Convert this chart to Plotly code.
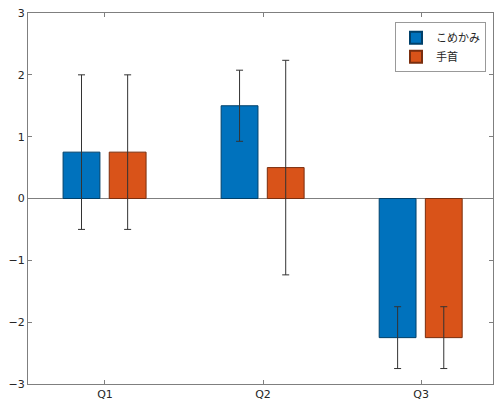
import plotly.graph_objects as go

categories = ["Q1", "Q2", "Q3"]
series_names = ["こめかみ", "手首"]
temple_vals = [0.75, 1.5, -2.25]
temple_err = [1.25, 0.575, 0.5]
wrist_vals = [0.75, 0.5, -2.25]
wrist_err = [1.25, 1.735, 0.5]
y_ticks = [-3, -2, -1, 0, 1, 2, 3]

colors = ["#0072BD", "#D95319"]
edges = ["#00406A", "#7A2E0E"]
xpos = [i + 1 for i in range(len(categories))]

fig = go.Figure()
for name, vals, errs, col, ec, off in [
    (series_names[0], temple_vals, temple_err, colors[0], edges[0], -0.265),
    (series_names[1], wrist_vals, wrist_err, colors[1], edges[1], 0.027),
]:
    fig.add_trace(go.Bar(
        x=xpos, y=vals, name=name,
        offset=off, width=0.233,
        marker=dict(color=col, line=dict(color=ec, width=1)),
        error_y=dict(type="data", array=errs, visible=True,
                     color="#333333", thickness=1, width=3.5),
    ))

axis_common = dict(
    showline=True, linecolor="#7f7f7f", linewidth=1, mirror="ticks",
    ticks="inside", ticklen=4, tickcolor="#7f7f7f", showgrid=False,
    tickfont=dict(family="DejaVu Sans, Noto Sans CJK JP", size=11, color="#262626"),
)

fig.update_layout(
    width=494, height=405,
    margin=dict(l=28, r=1, t=13, b=21),
    paper_bgcolor="white", plot_bgcolor="white",
    barmode="overlay",
    showlegend=True,
    legend=dict(x=0.985, y=0.975, xanchor="right", yanchor="top",
                bgcolor="white", bordercolor="#999999", borderwidth=1,
                font=dict(family="Noto Sans CJK JP, DejaVu Sans", size=11, color="#262626"),
                tracegroupgap=0, itemsizing="constant", itemwidth=30),
    font=dict(family="DejaVu Sans, Noto Sans CJK JP"),
)
fig.update_xaxes(range=[0.513, 3.455], tickvals=xpos, ticktext=categories,
                 zeroline=False, **axis_common)
fig.update_yaxes(range=[-3, 3], tickvals=y_ticks, zeroline=True,
                 zerolinecolor="#7f7f7f", zerolinewidth=1, **axis_common)

fig.write_html(
    "out.html",
    config={"displayModeBar": False},
    post_script="document.body.style.margin='0';document.body.style.overflow='hidden';",
)
